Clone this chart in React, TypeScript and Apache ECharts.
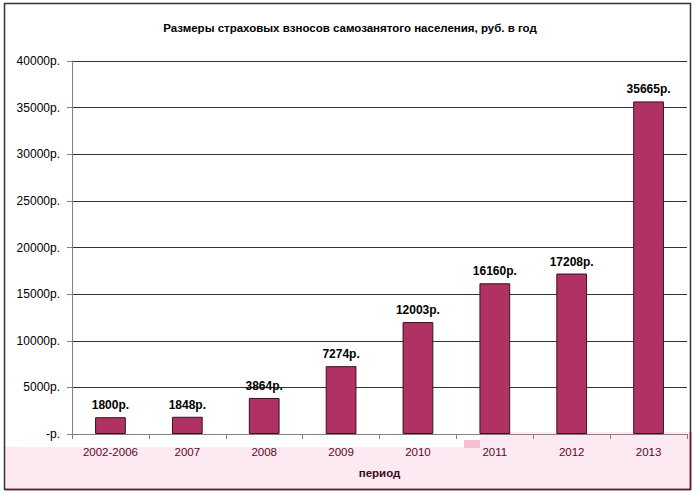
import React, { useEffect, useRef } from "react";
import * as echarts from "echarts";

const categories = ["2002-2006", "2007", "2008", "2009", "2010", "2011", "2012", "2013"];
const values = [1800, 1848, 3864, 7274, 12003, 16160, 17208, 35665];
const titleText = "Размеры страховых взносов самозанятого населения, руб. в год";
const xAxisTitle = "период";
const FONT = "Arial, 'Liberation Sans', sans-serif";

export default function App() {
  const ref = useRef<HTMLDivElement>(null);
  useEffect(() => {
    if (!ref.current) return;
    const chart = echarts.init(ref.current, null, { renderer: "svg" });
    chart.setOption({
      animation: false,
      backgroundColor: "#ffffff",
      title: {
        text: titleText,
        left: "center",
        top: 17,
        textStyle: { fontFamily: FONT, fontSize: 11.5, fontWeight: "bold", color: "#000" },
      },
      graphic: [
        { type: "rect", z: -10, shape: { x: 5, y: 447, width: 476, height: 42 }, style: { fill: "#fde9f1" } },
        { type: "rect", z: -10, shape: { x: 480, y: 432, width: 210, height: 57 }, style: { fill: "#fde9f1" } },
        { type: "rect", z: -10, shape: { x: 464, y: 440, width: 16, height: 8 }, style: { fill: "#f7bfd0" } },
        { type: "rect", z: 100, shape: { x: 4.5, y: 3.5, width: 686, height: 486 }, style: { fill: "none", stroke: "#333", lineWidth: 1.5 } },
        { type: "line", z: 101, shape: { x1: 5, y1: 489.5, x2: 691, y2: 489.5 }, style: { stroke: "#6a1830", lineWidth: 1.5 } },
        { type: "line", z: 101, shape: { x1: 690.5, y1: 432, x2: 690.5, y2: 490 }, style: { stroke: "#6a1830", lineWidth: 1.5 } },
      ],
      grid: { left: 72, right: 13, top: 61, bottom: 61, containLabel: false },
      xAxis: {
        type: "category",
        data: categories,
        name: xAxisTitle,
        nameLocation: "middle",
        nameGap: 33,
        nameTextStyle: { fontFamily: FONT, fontSize: 11.5, fontWeight: "bold", color: "#3a0a1a" },
        axisLine: { lineStyle: { color: "#808080", width: 1 } },
        axisTick: { show: true, alignWithLabel: false, length: 5, lineStyle: { color: "#808080" } },
        axisLabel: { fontFamily: FONT, fontSize: 11.5, color: "#5a0a28", margin: 12 },
      },
      yAxis: {
        type: "value",
        min: 0,
        max: 40000,
        interval: 5000,
        axisLine: { show: true, lineStyle: { color: "#808080", width: 1 } },
        axisTick: { show: true, length: 5, lineStyle: { color: "#808080" } },
        axisLabel: {
          fontFamily: FONT,
          fontSize: 12,
          color: "#000",
          margin: 12,
          formatter: (v: number) => (v === 0 ? "-р." : v + "р."),
        },
        splitLine: { show: true, lineStyle: { color: "#333", width: 1 } },
      },
      series: [
        {
          type: "bar",
          data: values,
          barWidth: "40%",
          itemStyle: { color: "#b03163", borderColor: "#3a1020", borderWidth: 1 },
          label: {
            show: true,
            position: "top",
            distance: 6,
            fontFamily: FONT,
            fontSize: 12,
            fontWeight: "bold",
            color: "#000",
            formatter: (p: any) => p.value + "р.",
          },
        },
      ],
    });
    return () => chart.dispose();
  }, []);
  return <div ref={ref} style={{ position: "fixed", left: 0, top: 0, width: 700, height: 495 }} />;
}
